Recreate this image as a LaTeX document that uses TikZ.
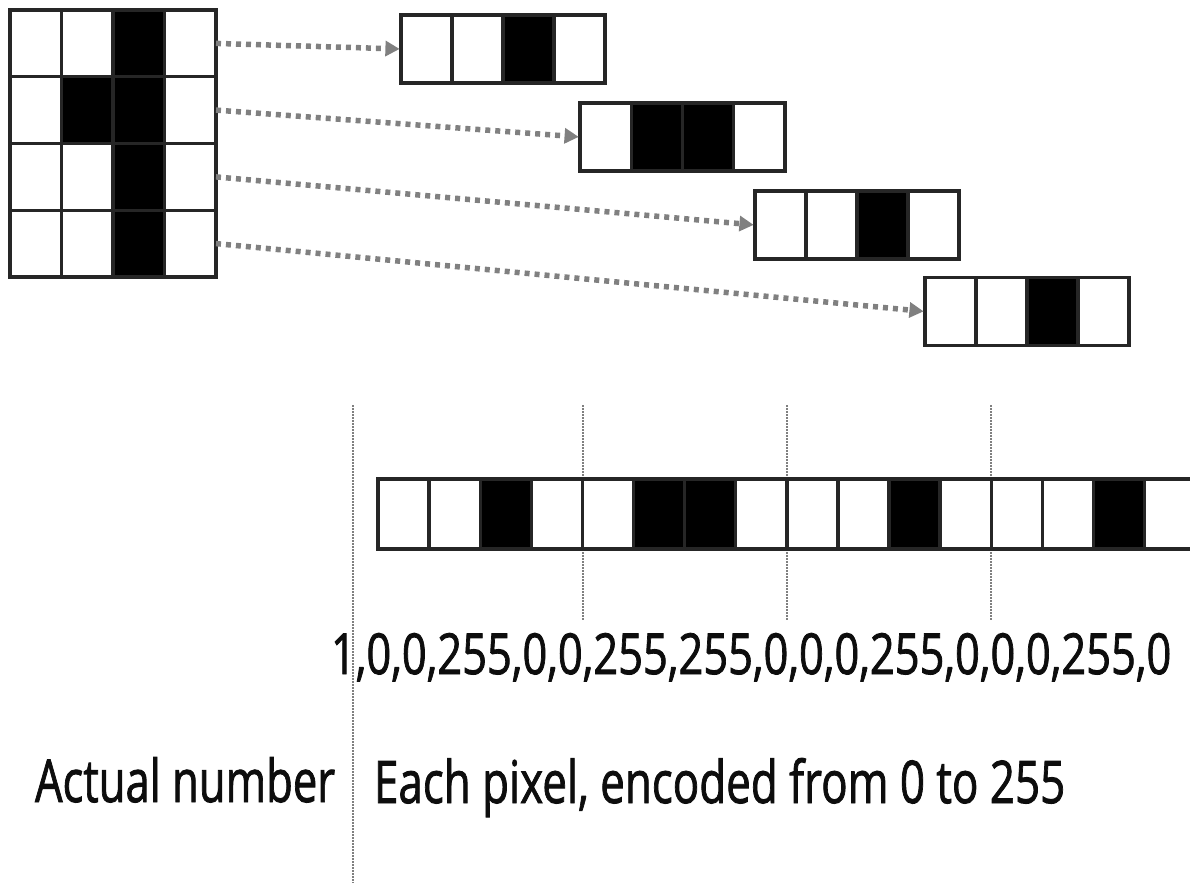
\documentclass[tikz,border=0pt]{standalone}
\usepackage{graphicx}
\usepackage{fontspec}
\newfontfamily\labfont[FakeBold=1.6]{Open Sans}
\usetikzlibrary{arrows.meta}
\begin{document}
\begin{tikzpicture}[x=1pt,y=-1pt,
  cell/.style={draw=black!85, line width=3.4pt, minimum width=51.2pt, minimum height=68pt, inner sep=0pt, outer sep=0pt},
  gcell/.style={cell, minimum width=51.5pt, minimum height=66.75pt},
  flow/.style={draw=black!50, line width=5.5pt, dash pattern=on 5pt off 5pt,
    -{Triangle[length=14pt,width=16pt,line width=0pt,fill=black!50]}, shorten >=1.5pt},
  guide/.style={draw=black!50, line width=1.3pt, dash pattern=on 1.5pt off 1.5pt},
  txt/.style={inner sep=0pt, outer sep=0pt, anchor=base west, text=black!95}]
\useasboundingbox (0,0) rectangle (1190,883);
\clip (0,0) rectangle (1190,883);
\fill[white] (0,0) rectangle (1190,883);

% source grid
\foreach \c/\f in {1/white,2/white,3/black,4/white}
  \node[gcell,fill=\f] (g1\c) at ({10+51.5*(\c-0.5)},43.4) {};
\foreach \c/\f in {1/white,2/black,3/black,4/white}
  \node[gcell,fill=\f] (g2\c) at ({10+51.5*(\c-0.5)},110.1) {};
\foreach \c/\f in {1/white,2/white,3/black,4/white}
  \node[gcell,fill=\f] (g3\c) at ({10+51.5*(\c-0.5)},176.9) {};
\foreach \c/\f in {1/white,2/white,3/black,4/white}
  \node[gcell,fill=\f] (g4\c) at ({10+51.5*(\c-0.5)},243.6) {};

% row strips
\foreach \c/\f in {1/white,2/white,3/black,4/white}
  \node[cell,fill=\f] (a\c) at ({401+51*(\c-0.5)},49) {};
\foreach \c/\f in {1/white,2/black,3/black,4/white}
  \node[cell,fill=\f] (b\c) at ({580+51.25*(\c-0.5)},137) {};
\foreach \c/\f in {1/white,2/white,3/black,4/white}
  \node[cell,fill=\f] (c\c) at ({755+51*(\c-0.5)},225) {};
\foreach \c/\f in {1/white,2/white,3/black,4/white}
  \node[cell,fill=\f] (d\c) at ({925+51*(\c-0.5)},311.5) {};

% arrows
\draw[flow] (g14.east) -- (a1.west);
\draw[flow] (g24.east) -- (b1.west);
\draw[flow] (g34.east) -- (c1.west);
\draw[flow] (g44.east) -- (d1.west);

% guides
\draw[guide] (353,405) -- (353,883);
\draw[guide] (583,405) -- (583,620);
\draw[guide] (787,405) -- (787,620);
\draw[guide] (991,405) -- (991,620);

% long strip
\foreach \c/\f in {1/white,2/white,3/black,4/white,5/white,6/black,7/black,8/white,
                   9/white,10/white,11/black,12/white,13/white,14/white,15/black,16/white}
  \node[cell,fill=\f,minimum width=51.1pt,minimum height=70pt] (e\c) at ({378+51.1*(\c-0.5)},514) {};

% texts
\node[txt] (nums) at (331,674) {\resizebox{840pt}{41pt}{\labfont 1,0,0,255,0,0,255,255,0,0,0,255,0,0,0,255,0}};
\node[txt] (act) at (35,802) {\resizebox{300pt}{45pt}{\labfont Actual number}};
\node[txt] (each) at (374,803) {\resizebox{691pt}{45pt}{\labfont Each pixel, encoded from 0 to 255}};
\end{tikzpicture}
\end{document}
